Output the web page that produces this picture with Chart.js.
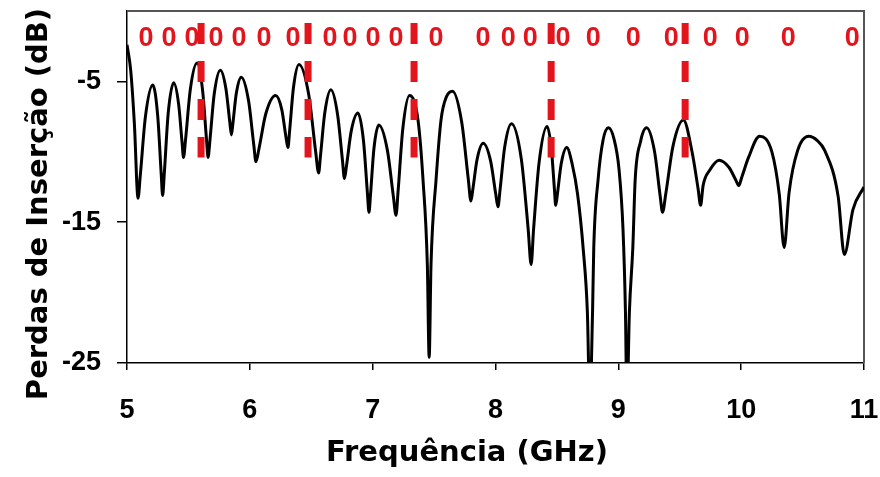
<!DOCTYPE html>
<html>
<head>
<meta charset="utf-8">
<title>Perdas de Inserção</title>
<script src="https://cdn.jsdelivr.net/npm/chart.js@4.4.1/dist/chart.umd.min.js"></script>
<style>
  html, body { margin: 0; padding: 0; background: #fff; }
  #chart { display: block; }
</style>
</head>
<body>
<canvas id="chart" width="880" height="477"></canvas>
<script>
// Insertion loss curve (GHz, dB)
const freqGHz = [
  5.00, 5.03, 5.06, 5.09, 5.108, 5.15, 5.21, 5.25, 5.278, 5.29,
  5.304, 5.335, 5.38, 5.42, 5.448, 5.46, 5.477, 5.515, 5.57, 5.615,
  5.647, 5.66, 5.675, 5.71, 5.76, 5.805, 5.837, 5.85, 5.862, 5.89,
  5.93, 5.99, 6.032, 6.05, 6.074, 6.13, 6.21, 6.26, 6.295, 6.31,
  6.324, 6.355, 6.40, 6.48, 6.536, 6.56, 6.575, 6.61, 6.66, 6.715,
  6.754, 6.77, 6.787, 6.825, 6.88, 6.925, 6.957, 6.97, 6.982, 7.01,
  7.05, 7.12, 7.169, 7.19, 7.207, 7.245, 7.30, 7.37, 7.41, 7.445,
  7.46, 7.475, 7.516, 7.557, 7.60, 7.65, 7.725, 7.778, 7.80, 7.815,
  7.85, 7.90, 7.96, 8.002, 8.02, 8.037, 8.075, 8.13, 8.21, 8.266,
  8.29, 8.31, 8.355, 8.42, 8.455, 8.48, 8.49, 8.504, 8.535, 8.58,
  8.625, 8.668, 8.715, 8.748, 8.768, 8.79, 8.80, 8.835, 8.875, 8.92,
  8.965, 9.005, 9.038, 9.058, 9.07, 9.09, 9.118, 9.137, 9.18, 9.23,
  9.295, 9.34, 9.36, 9.386, 9.445, 9.53, 9.60, 9.649, 9.67, 9.69,
  9.745, 9.82, 9.90, 9.956, 9.98, 10.005, 10.06, 10.15, 10.25, 10.31,
  10.35, 10.39, 10.46, 10.55, 10.62, 10.68, 10.79, 10.84, 10.91, 11.00
];
const lossDb = [
  -2.4, -4.2, -8.0, -13.3, -11.7, -7.5, -5.25, -7.45, -11.5, -13.1,
  -11.5, -7.3, -5.1, -6.6, -9.3, -10.4, -9.1, -5.6, -3.7, -5.6,
  -9.1, -10.4, -9.2, -5.9, -4.2, -5.5, -7.9, -8.8, -8.0, -5.85,
  -4.7, -6.4, -9.5, -10.7, -9.8, -7.3, -6.0, -7.0, -9.0, -9.7,
  -8.5, -5.45, -3.8, -5.96, -10.0, -11.5, -10.3, -7.25, -5.6, -7.4,
  -10.6, -11.9, -11.0, -8.55, -7.25, -9.2, -12.9, -14.3, -13.1, -9.8,
  -8.1, -9.9, -13.2, -14.5, -12.8, -8.4, -6.0, -7.8, -12.0, -18.0,
  -24.6, -18.0, -12.0, -7.7, -6.1, -5.7, -7.9, -11.9, -13.5, -12.7,
  -10.55, -9.4, -10.65, -13.0, -13.9, -12.7, -9.65, -8.0, -10.5, -15.5,
  -18.0, -15.5, -10.75, -8.2, -9.8, -12.7, -13.8, -13.0, -10.85, -9.7,
  -10.9, -13.0, -17.0, -21.4, -28.0, -21.4, -16.8, -12.0, -9.2, -8.3,
  -9.1, -11.2, -15.5, -21.4, -28.0, -21.4, -16.8, -12.0, -9.3, -8.3,
  -10.0, -13.1, -14.3, -13.0, -9.6, -7.75, -10.0, -12.6, -13.8, -12.4,
  -11.3, -10.6, -11.1, -12.0, -12.4, -11.8, -10.4, -8.9, -10.0, -13.0,
  -16.8, -12.9, -9.9, -8.9, -9.2, -9.9, -13.2, -17.3, -14.1, -12.5
];

// red dashed marker lines
const markerFreqs = [5.603, 6.474, 7.337, 8.453, 9.544];
const markerTop = -0.85;
const markerBottom = -10.4;

// red "0" labels along the top
const zeroFreqs = [
  5.155, 5.342, 5.529, 5.725, 5.912, 6.116, 6.352, 6.653, 6.816, 7.003,
  7.191, 7.516, 7.899, 8.103, 8.282, 8.550, 8.795, 9.121, 9.430, 9.748,
  10.008, 10.383, 10.904
];
const zeroLevel = -1.95;

const xTicks = [5, 6, 7, 8, 9, 10, 11];
const yTicks = [-25, -15, -5];

const RED = '#e3141b';
const tickFont = { family: '"Liberation Sans", Arial, sans-serif', size: 27, weight: 'bold' };

const curve = freqGHz.map((f, i) => ({ x: f, y: lossDb[i] }));

const markerSets = markerFreqs.map(f => ({
  data: [{ x: f, y: markerTop }, { x: f, y: markerBottom }],
  borderColor: RED,
  borderWidth: 7,
  borderDash: [21, 17],
  borderCapStyle: 'butt',
  pointRadius: 0,
  tension: 0
}));

// frame, "0" labels and axis titles
const overlay = {
  id: 'overlay',
  beforeDatasetsDraw(chart) {
    const { ctx, chartArea: a } = chart;
    ctx.save();
    ctx.strokeStyle = '#555';
    ctx.lineWidth = 2;
    ctx.beginPath();
    ctx.moveTo(a.left, a.top);
    ctx.lineTo(a.right, a.top);
    ctx.lineTo(a.right, a.bottom);
    ctx.stroke();
    ctx.restore();
  },
  afterDatasetsDraw(chart) {
    const { ctx, scales: { x, y } } = chart;
    ctx.save();
    ctx.fillStyle = RED;
    ctx.font = 'bold 27px "Liberation Sans", Arial, sans-serif';
    ctx.textAlign = 'center';
    ctx.textBaseline = 'middle';
    zeroFreqs.forEach(f => ctx.fillText('0', x.getPixelForValue(f), y.getPixelForValue(zeroLevel)));
    ctx.restore();
  },
  afterDraw(chart) {
    const { ctx } = chart;
    ctx.save();
    ctx.fillStyle = '#000';
    ctx.font = 'bold 29px "DejaVu Sans", sans-serif';
    ctx.textAlign = 'center';
    ctx.textBaseline = 'alphabetic';
    ctx.fillText('Frequência (GHz)', 467, 461);
    ctx.translate(47, 204);
    ctx.rotate(-Math.PI / 2);
    ctx.fillText('Perdas de Inserção (dB)', 0, 0);
    ctx.restore();
  }
};

new Chart(document.getElementById('chart'), {
  type: 'line',
  data: {
    datasets: [
      ...markerSets,
      {
        data: curve,
        borderColor: '#000',
        borderWidth: 3,
        pointRadius: 0,
        cubicInterpolationMode: 'monotone'
      }
    ]
  },
  options: {
    responsive: false,
    animation: false,
    devicePixelRatio: 1,
    layout: { padding: { top: 11, right: 16, left: 0, bottom: 0 } },
    plugins: { legend: { display: false }, tooltip: { enabled: false } },
    scales: {
      x: {
        type: 'linear',
        min: 5,
        max: 11,
        afterBuildTicks: s => { s.ticks = xTicks.map(v => ({ value: v })); },
        afterFit: s => { s.height = 114; s.paddingLeft = 0; s.paddingRight = 0; },
        grid: { drawOnChartArea: false, drawTicks: true, tickLength: 7, color: '#000', lineWidth: 1.5 },
        border: { display: true, color: '#000', width: 1.5 },
        ticks: { font: tickFont, color: '#000', padding: 24, maxRotation: 0, autoSkip: false }
      },
      y: {
        type: 'linear',
        min: -25,
        max: 0,
        afterBuildTicks: s => { s.ticks = yTicks.map(v => ({ value: v })); },
        afterFit: s => { s.width = 127; s.paddingTop = 0; s.paddingBottom = 0; },
        grid: { drawOnChartArea: false, drawTicks: true, tickLength: 10, color: '#000', lineWidth: 1.5 },
        border: { display: true, color: '#000', width: 1.5 },
        ticks: { font: tickFont, color: '#000', padding: 16 }
      }
    }
  },
  plugins: [overlay]
});
</script>
</body>
</html>
